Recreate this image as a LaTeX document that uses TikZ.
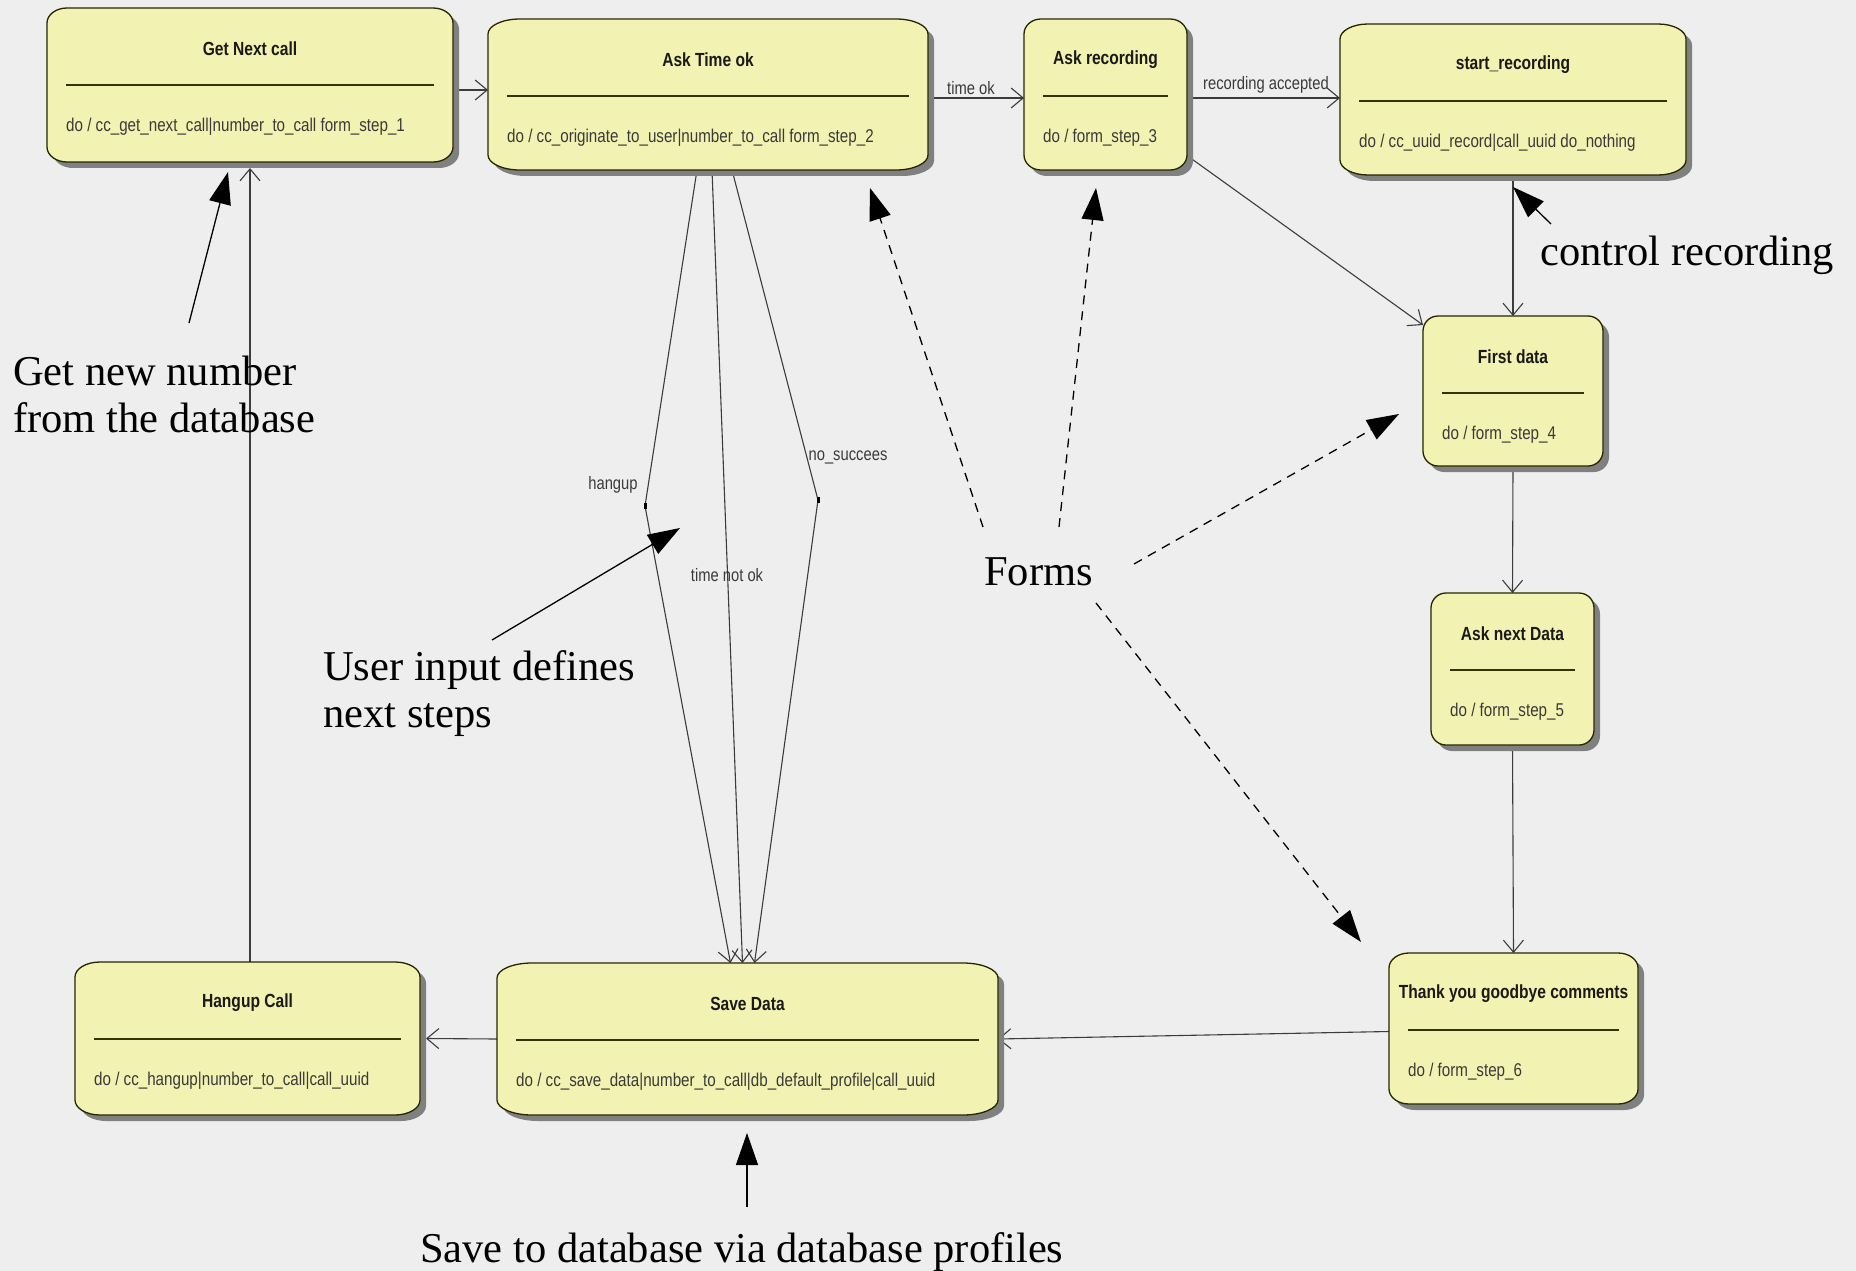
\documentclass[tikz,border=0pt]{standalone}
\usepackage{fontspec}
\setmainfont{Liberation Serif}
\newfontfamily\umlfont[FakeStretch=0.82]{Liberation Sans}
\usetikzlibrary{arrows.meta,calc}
\pgfdeclarelayer{bg}
\pgfdeclarelayer{edges}
\pgfsetlayers{bg,edges,main}
\definecolor{bgc}{HTML}{EEEEEE}
\definecolor{boxfill}{HTML}{F2F2B2}
\definecolor{boxline}{HTML}{262600}
\definecolor{sepc}{HTML}{33330A}
\definecolor{shadowc}{HTML}{808080}
\definecolor{titlec}{HTML}{1A1A1A}
\definecolor{bodyc}{HTML}{3A3A3A}
\definecolor{transc}{HTML}{3C3C3C}
\tikzset{
  umlbox/.style={fill=boxfill, draw=boxline, line width=1.3pt},
  umlshadow/.style={fill=shadowc},
  umlsep/.style={draw=sepc, line width=1.8pt},
  boxn/.style={inner sep=0pt, outer sep=0pt, draw=none},
  umltitle/.style={font=\umlfont\bfseries\fontsize{19}{22}\selectfont, text=titlec, inner sep=0pt},
  umlbody/.style={font=\umlfont\fontsize{18.5}{21}\selectfont, text=bodyc, inner sep=0pt, anchor=west},
  trlabel/.style={font=\umlfont\fontsize{18}{20}\selectfont, text=bodyc, inner sep=0pt},
  trans/.style={draw=transc, line width=1.1pt, -{Straight Barb[length=12pt,width=20pt]}},
  note/.style={font=\fontsize{42.5}{47}\selectfont, anchor=base west, inner sep=0pt},
  notearrow/.style={draw=black, line width=1.3pt, -{Triangle[length=32pt,width=22pt]}},
  formarrow/.style={notearrow, dash pattern=on 9pt off 7pt},
}
% #1 node, #2 rx, #3 dx, #4 dy (down), #5 style
\newcommand\umlshape[5]{%
  \path[#5] ([xshift=#2pt+#3pt,yshift=-#4pt]#1.north west)
    -- ([xshift=-#2pt+#3pt,yshift=-#4pt]#1.north east)
    arc[start angle=90,end angle=0,x radius=#2pt,y radius=15pt]
    -- ([xshift=#3pt,yshift=15pt-#4pt]#1.south east)
    arc[start angle=0,end angle=-90,x radius=#2pt,y radius=15pt]
    -- ([xshift=#2pt+#3pt,yshift=-#4pt]#1.south west)
    arc[start angle=-90,end angle=-180,x radius=#2pt,y radius=15pt]
    -- ([xshift=#3pt,yshift=-15pt-#4pt]#1.north west)
    arc[start angle=180,end angle=90,x radius=#2pt,y radius=15pt]
    -- cycle;}
% #1 name, #2 x1, #3 y1, #4 x2, #5 y2, #6 rx, #7 title, #8 body
\newcommand\umlstate[8]{%
  \node[boxn, anchor=north west, minimum width={#4pt-#2pt}, minimum height={#5pt-#3pt}] (#1) at (#2,#3) {};
  \umlshape{#1}{#6}{6}{6}{umlshadow}
  \umlshape{#1}{#6}{0}{0}{umlbox}
  \draw[umlsep] ([xshift=19pt,yshift=-77pt]#1.north west) -- ([xshift=-19pt,yshift=-77pt]#1.north east);
  \node[umltitle] (#1-t) at ([yshift=-41pt]#1.north) {#7};
  \node[umlbody] (#1-b) at ([xshift=19pt,yshift=-119pt]#1.north west) {#8};
}
\begin{document}
\begin{tikzpicture}[x=1pt,y=-1pt]
\useasboundingbox (0,0) rectangle (1856,1271);
\begin{pgfonlayer}{bg}
  \fill[bgc] (0,0) rectangle (1856,1271);
\end{pgfonlayer}

% states
\umlstate{gnc}{47}{8}{453}{162}{20}{Get Next call}{do / cc\_get\_next\_call|number\_to\_call form\_step\_1}
\umlstate{ato}{488}{19}{928}{170}{32}{Ask Time ok}{do / cc\_originate\_to\_user|number\_to\_call form\_step\_2}
\umlstate{ar}{1024}{19}{1187}{170}{17}{Ask recording}{do / form\_step\_3}
\umlstate{sr}{1340}{24}{1686}{175}{28}{start\_recording}{do / cc\_uuid\_record|call\_uuid do\_nothing}
\umlstate{fd}{1423}{316}{1603}{466}{15}{First data}{do / form\_step\_4}
\umlstate{an}{1431}{593}{1594}{745}{15}{Ask next Data}{do / form\_step\_5}
\umlstate{tyg}{1389}{953}{1638}{1104}{20}{Thank you goodbye comments}{do / form\_step\_6}
\umlstate{sd}{497}{963}{998}{1115}{35}{Save Data}{do / cc\_save\_data|number\_to\_call|db\_default\_profile|call\_uuid}
\umlstate{hc}{75}{962}{420}{1115}{25}{Hangup Call}{do / cc\_hangup|number\_to\_call|call\_uuid}

% bend points
\coordinate (b1) at (645,506);
\coordinate (b2) at (818,500);

\begin{pgfonlayer}{edges}
  \draw[trans] (gnc.east |- 0,90) -- (ato.west |- 0,90);
  \draw[trans] (ato.east |- 0,98) -- (ar.west |- 0,98);
  \draw[trans] (ar.east |- 0,98) -- (sr.west |- 0,98);
  \draw[trans] ([xshift=2pt,yshift=13pt]ar.south east) -- ([yshift=-9pt]fd.north west);
  \draw[trans] (sr.south) -- (fd.north);
  \draw[trans] (fd.south) -- (an.north);
  \draw[trans] (an.south) -- (tyg.north);
  \draw[trans] ([yshift=-3pt]tyg.west) -- (sd.east);
  \draw[trans] (sd.west) -- ([xshift=6pt]hc.east);
  \draw[trans] (hc.north -| gnc.south) -- ([yshift=-6pt]gnc.south);
  \draw[trans] ([xshift=-11pt]ato.south) -- (b1) -- ([xshift=-17pt]sd.north);
  \draw[trans] ([xshift=4pt]ato.south) -- ([xshift=-5pt]sd.north);
  \draw[trans] ([xshift=24pt]ato.south) -- (b2) -- ([xshift=7pt]sd.north);
  \fill[black] ([xshift=-1.5pt,yshift=-3pt]b1) rectangle ([xshift=1.5pt,yshift=3pt]b1);
  \fill[black] ([xshift=-1.5pt,yshift=-3pt]b2) rectangle ([xshift=1.5pt,yshift=3pt]b2);
\end{pgfonlayer}

% transition labels
\node[trlabel] (l-timeok) at (971,88) {time ok};
\node[trlabel] (l-recacc) at (1266,85) {recording accepted};
\node[trlabel] (l-hangup) at (613,485) {hangup};
\node[trlabel] (l-notok) at (727,575) {time not ok};
\node[trlabel] (l-nosucc) at (848,457) {no\_succees};

% notes
\node[note] (n-gnn1) at (13,385) {Get new number};
\node[note] (n-gnn2) at (13,432) {from the database};
\node[note] (n-ui1) at (323,680) {User input defines};
\node[note] (n-ui2) at (323,727) {next steps};
\node[note] (n-forms) at (984,585) {Forms};
\node[note] (n-ctrl) at (1540,265) {control recording};
\node[note] (n-save) at (420,1262) {Save to database via database profiles};

% note arrow ends
\coordinate (a-gnn-s) at (189,323);
\coordinate (a-gnn-e) at (228,172);
\coordinate (a-ui-s) at (492,640);
\coordinate (a-ui-e) at (680,528);
\coordinate (a-f1-s) at (983,527);
\coordinate (a-f1-e) at (870,188);
\coordinate (a-f2-s) at (1059,527);
\coordinate (a-f2-e) at (1096,188);
\coordinate (a-f3-s) at (1134,564);
\coordinate (a-f3-e) at (1399,414);
\coordinate (a-f4-s) at (1096,603);
\coordinate (a-f4-e) at (1361,942);
\coordinate (a-cr-s) at (1551,224);
\coordinate (a-cr-e) at (1513,187);
\coordinate (a-sv-s) at (747,1207);
\coordinate (a-sv-e) at (747,1133);

\draw[notearrow] (a-gnn-s) -- (a-gnn-e);
\draw[notearrow] (a-ui-s) -- (a-ui-e);
\draw[formarrow] (a-f1-s) -- (a-f1-e);
\draw[formarrow] (a-f2-s) -- (a-f2-e);
\draw[formarrow] (a-f3-s) -- (a-f3-e);
\draw[formarrow] (a-f4-s) -- (a-f4-e);
\draw[notearrow] (a-cr-s) -- (a-cr-e);
\draw[notearrow] (a-sv-s) -- (a-sv-e);
\end{tikzpicture}
\end{document}
